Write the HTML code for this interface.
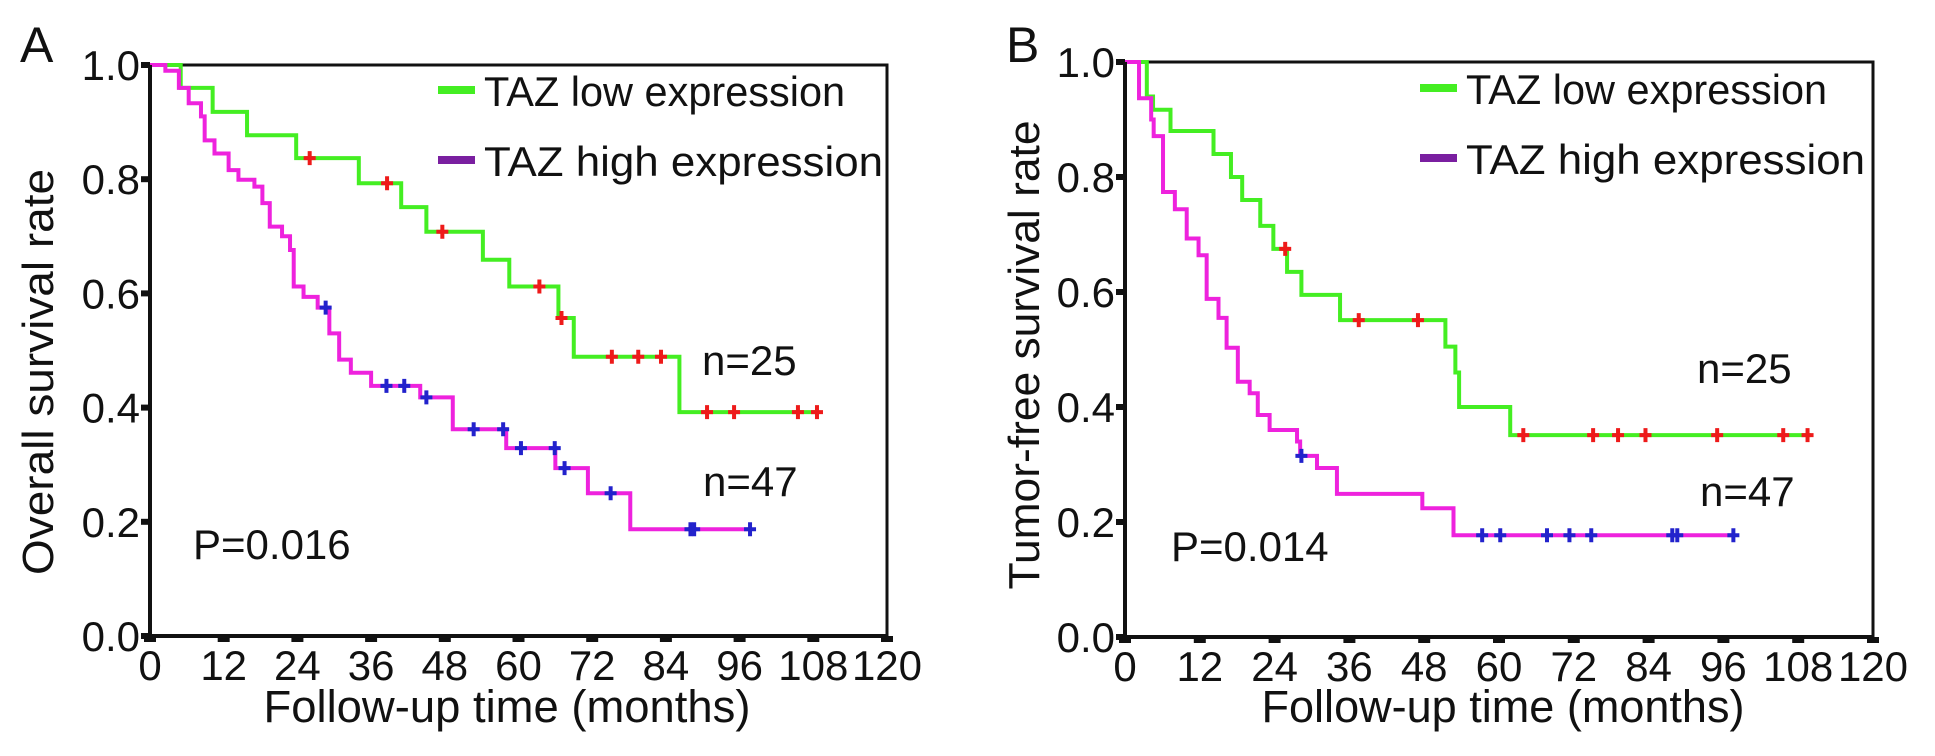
<!DOCTYPE html>
<html><head><meta charset="utf-8">
<style>
html,body{margin:0;padding:0;background:#fff;}
svg{display:block;font-family:"Liberation Sans",sans-serif;}
</style></head>
<body>
<svg id="fig" width="1935" height="756" viewBox="0 0 1935 756" xmlns="http://www.w3.org/2000/svg"></svg>
<script>
// ---- data ----
const xTicks = [0,12,24,36,48,60,72,84,96,108,120];
const yTicks = [0.0,0.2,0.4,0.6,0.8,1.0];
const yTickLabels = ["0.0","0.2","0.4","0.6","0.8","1.0"];

// Panel A (overall survival)
const aLowTimes = [5,10.2,15.8,23.8,34,40.9,45,54.2,58.5,66.5,69,86.2];
const aLowSurv  = [0.96,0.918,0.877,0.837,0.793,0.751,0.708,0.659,0.612,0.557,0.489,0.392];
const aLowCens  = [26,38.6,47.6,63.4,67,75.2,79.5,83.2,90.7,95.1,105.5,108.6];
const aLowEnd = 109;
const aHighTimes = [2.5,4.7,6.3,8.3,8.9,10.5,12.8,14.4,17,18.3,19.5,21.5,22.8,23.4,25,27.3,29.2,30.8,32.7,36,44,49.3,58,66,71.3,78.2];
const aHighSurv  = [0.99,0.96,0.933,0.91,0.868,0.845,0.816,0.799,0.787,0.758,0.717,0.7,0.676,0.612,0.594,0.575,0.53,0.484,0.461,0.438,0.418,0.362,0.329,0.294,0.25,0.187];
const aHighCens  = [28.6,38.5,41.4,45,52.7,57.5,60.4,65.9,67.5,75,88,88.6,97.7];
const aHighEnd = 98;

// Panel B (tumor-free survival)
const bLowTimes = [3.5,4.5,7.3,14.2,17,18.8,21.7,23.8,26,28.3,34.5,51.4,53,53.6,61.8];
const bLowSurv  = [0.94,0.917,0.88,0.84,0.80,0.76,0.715,0.675,0.635,0.595,0.551,0.505,0.46,0.40,0.351];
const bLowCens  = [25.7,37.5,47,63.9,75.1,79.1,83.5,95,105.6,109.5];
const bLowEnd = 110;
const bHighTimes = [2.25,4.2,4.6,6.1,8,9.9,11.8,13.1,15,16.3,18.1,20,21.3,23.2,27.6,28.1,30.8,34,47.7,52.7];
const bHighSurv  = [0.937,0.90,0.871,0.774,0.744,0.693,0.664,0.588,0.555,0.503,0.444,0.424,0.386,0.36,0.34,0.315,0.294,0.249,0.224,0.177];
const bHighCens  = [28.3,57.3,60.2,67.7,71.3,74.8,87.8,88.6,97.6];
const bHighEnd = 97.6;

const NS="http://www.w3.org/2000/svg";
const svg=document.getElementById('fig');
function mk(tag,attrs,parent){const e=document.createElementNS(NS,tag);for(const k in attrs)e.setAttribute(k,attrs[k]);(parent||svg).appendChild(e);return e;}
function txt(s,attrs,parent){const e=mk('text',attrs,parent);e.textContent=s;return e;}

function stepVal(times,surv,t){let v=1;for(let i=0;i<times.length;i++){if(times[i]<=t)v=surv[i];}return v;}

function panel(cfg){
  const g=mk('g',{});
  
  
  const X=t=>cfg.x0+(cfg.x1-cfg.x0)*t/120;
  const Y=v=>cfg.y0+(cfg.y1-cfg.y0)*v;
  const fr=mk('path',{d:`M${X(0)},${Y(1)} H${X(120)} V${Y(0)}`,fill:'none',stroke:'#111','stroke-width':3},g);
  
  
  function series(times,surv,cens,end,col,ccol,nm){
    let d=`M${X(0)},${Y(1)}`;
    for(let i=0;i<times.length;i++){d+=` H${X(times[i])} V${Y(surv[i])}`;}
    d+=` H${X(end)}`;
    const p=mk('path',{d:d,fill:'none',stroke:col,'stroke-width':4,'stroke-linejoin':'miter'},g);
    
    
    cens.forEach(c=>{
      const cx=X(c),cy=Y(stepVal(times,surv,c));
      const m=mk('path',{d:`M${cx-6},${cy} H${cx+6} M${cx},${cy-7} V${cy+7}`,stroke:ccol,'stroke-width':4},g);
      
      
    });
  }
  series(cfg.lowT,cfg.lowS,cfg.lowC,cfg.lowE,'#44ee22','#ee1a1a','low-expression');
  series(cfg.highT,cfg.highS,cfg.highC,cfg.highE,'#ee22dd','#2222cc','high-expression');
  const ax=mk('path',{d:`M${X(0)},${Y(1)} V${Y(0)} H${X(120)}`,fill:'none',stroke:'#111','stroke-width':4},g);
  
  
  yTicks.forEach((v,i)=>{
    const t=mk('rect',{x:X(0)-9,y:Y(v)-3,width:9,height:6,fill:'#111'},g);
    
    
    const l=txt(yTickLabels[i],{x:X(0)-10,y:Y(v)+15,'font-size':42,'text-anchor':'end',fill:'#111'},g);
    
    
  });
  xTicks.forEach(v=>{
    const t=mk('rect',{x:X(v)-6,y:Y(0),width:12,height:6,fill:'#111'},g);
    
    
    const l=txt(String(v),{x:X(v),y:Y(0)+44,'font-size':42,'text-anchor':'middle',fill:'#111'},g);
    
    
  });
  const xt=txt('Follow-up time (months)',{x:cfg.xtX,y:722,'font-size':45,'text-anchor':'middle',fill:'#111',textLength:cfg.xtL,lengthAdjust:'spacingAndGlyphs'},g);
  
  
  const yt=txt(cfg.ytitle,{x:0,y:0,'font-size':44,'text-anchor':'middle',fill:'#111',textLength:cfg.ytL,lengthAdjust:'spacingAndGlyphs',transform:`translate(${cfg.ytX},${cfg.ytY}) rotate(-90)`},g);
  
  
  const pl=txt(cfg.letter,{x:cfg.letX,y:62,'font-size':50,fill:'#111'},g);
  
  
  [['TAZ low expression','#44ee22',cfg.legY1],['TAZ high expression','#7a1fa0',cfg.legY2]].forEach(([s,c,y],i)=>{
    const e=mk('g',{},g);
    
    
    mk('rect',{x:cfg.legX,y:y-4,width:37,height:8,fill:c},e);
    txt(s,{x:cfg.legX+46,y:y+16,'font-size':42,fill:'#111',textLength:i? cfg.legEnd-cfg.legX-46 : (cfg.legEnd-cfg.legX-46)*0.905,lengthAdjust:'spacingAndGlyphs'},e);
  });
  const n1=txt('n=25',{x:cfg.n25X,y:cfg.n25Y,'font-size':42,fill:'#111'},g);
  
  
  const n2=txt('n=47',{x:cfg.n47X,y:cfg.n47Y,'font-size':42,fill:'#111'},g);
  
  
  const pv=txt(cfg.p,{x:cfg.pX,y:cfg.pY,'font-size':42,fill:'#111'},g);
  
  
}

panel({name:'panel-a',x0:150,x1:887,y0:636,y1:65,
  lowT:aLowTimes,lowS:aLowSurv,lowC:aLowCens,lowE:aLowEnd,
  highT:aHighTimes,highS:aHighSurv,highC:aHighCens,highE:aHighEnd,
  xtX:507,xtL:487,ytitle:'Overall survival rate',ytX:53,ytY:372,ytL:406,letter:'A',letX:20,
  legX:438,legY1:90,legY2:160,legEnd:883,n25X:702,n25Y:375,n47X:703,n47Y:496,p:'P=0.016',pX:193,pY:559});
panel({name:'panel-b',x0:1125,x1:1873,y0:637,y1:62,
  lowT:bLowTimes,lowS:bLowSurv,lowC:bLowCens,lowE:bLowEnd,
  highT:bHighTimes,highS:bHighSurv,highC:bHighCens,highE:bHighEnd,
  xtX:1503,xtL:483,ytitle:'Tumor-free survival rate',ytX:1039,ytY:355,ytL:469,letter:'B',letX:1006,
  legX:1420,legY1:88,legY2:158,legEnd:1865,n25X:1697,n25Y:383,n47X:1700,n47Y:506,p:'P=0.014',pX:1171,pY:561});
</script>
</body></html>
